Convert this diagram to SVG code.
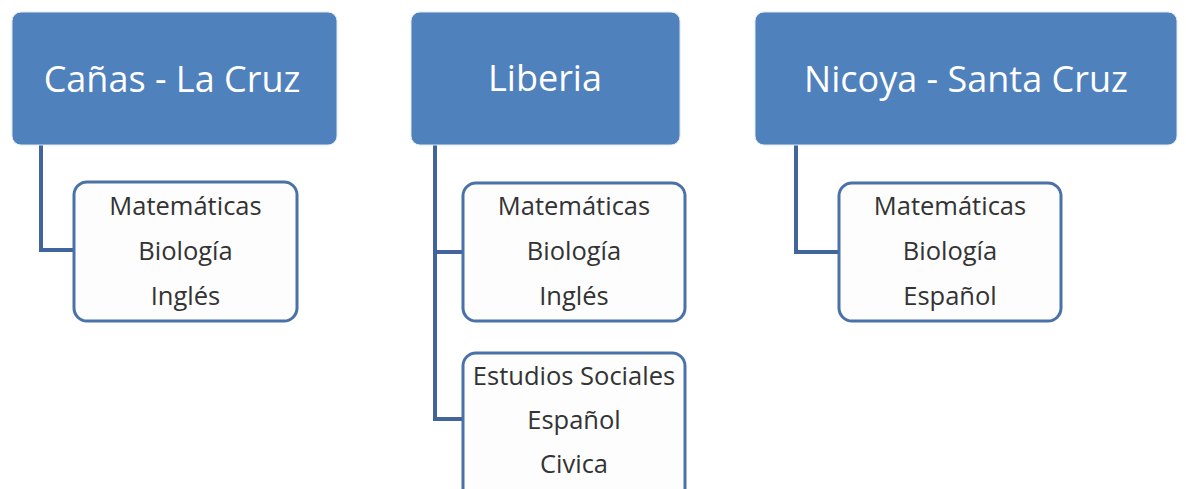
<svg xmlns="http://www.w3.org/2000/svg" width="1186" height="489" viewBox="0 0 1186 489">
<style>
.hdr{fill:#4f81bd;stroke:#dfe8f3;stroke-width:1}
.ht{font-family:"Open Sans","Noto Sans",sans-serif;font-size:36px;fill:#ffffff;text-anchor:middle}
.ch{fill:#fdfdfd;stroke:#4a71a8;stroke-width:3}
.ct{font-family:"Open Sans","Noto Sans",sans-serif;font-size:25.5px;fill:#333333;text-anchor:middle}
.con{fill:none;stroke:#41649a;stroke-width:4}
</style>
<rect width="1186" height="489" fill="#ffffff"/>
<g id="connectors">
<path class="con" d="M41 145 V250 H74"/>
<path class="con" d="M435 145 V419 H463"/>
<path class="con" d="M435 252 H463"/>
<path class="con" d="M796 145 V252 H839"/>
</g>
<g id="canas">
<rect class="hdr" x="12" y="12" width="325" height="133" rx="9"/>
<text class="ht" x="172" y="92">Cañas - La Cruz</text>
</g>
<g id="liberia">
<rect class="hdr" x="411" y="12" width="269" height="133" rx="9"/>
<text class="ht" x="545" y="91">Liberia</text>
</g>
<g id="nicoya">
<rect class="hdr" x="755" y="12" width="422" height="133" rx="9"/>
<text class="ht" x="966" y="92">Nicoya - Santa Cruz</text>
</g>
<g id="canas-materias">
<rect class="ch" x="74" y="182" width="223" height="139" rx="13"/>
<text class="ct" x="185.5" y="215">Matemáticas</text>
<text class="ct" x="185.5" y="260">Biología</text>
<text class="ct" x="185.5" y="305">Inglés</text>
</g>
<g id="liberia-materias-1">
<rect class="ch" x="463" y="183" width="222" height="138" rx="13"/>
<text class="ct" x="574" y="215">Matemáticas</text>
<text class="ct" x="574" y="260">Biología</text>
<text class="ct" x="574" y="305">Inglés</text>
</g>
<g id="liberia-materias-2">
<rect class="ch" x="463" y="353" width="222" height="150" rx="13"/>
<text class="ct" x="574" y="385">Estudios Sociales</text>
<text class="ct" x="574" y="429">Español</text>
<text class="ct" x="574" y="473">Civica</text>
</g>
<g id="nicoya-materias">
<rect class="ch" x="839" y="183" width="222" height="138" rx="13"/>
<text class="ct" x="950" y="215">Matemáticas</text>
<text class="ct" x="950" y="260">Biología</text>
<text class="ct" x="950" y="305">Español</text>
</g>
</svg>
